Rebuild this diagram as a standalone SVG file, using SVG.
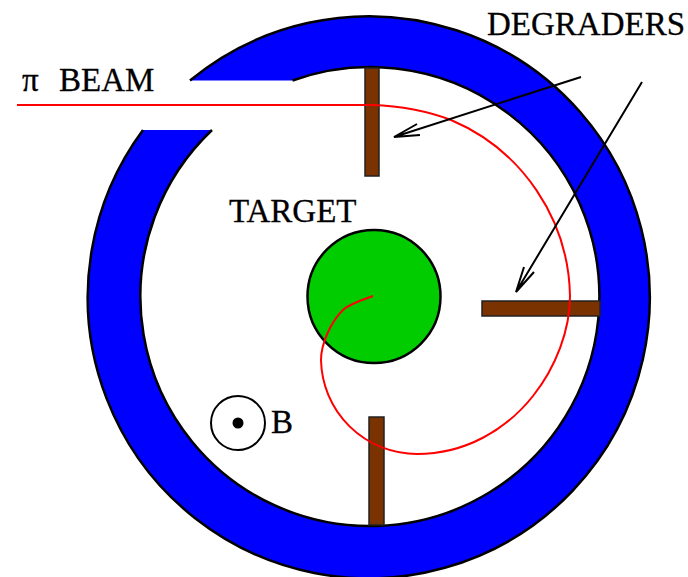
<svg xmlns="http://www.w3.org/2000/svg" width="688" height="577" viewBox="0 0 688 577">
<defs>
<style>
.t{font-family:"Liberation Serif","Times New Roman",serif;font-size:33px;fill:#000;stroke:#000;stroke-width:.3}
.o{fill:none;stroke:#000;stroke-width:2.500}
.d{fill:#7a3300;stroke:#222;stroke-width:1.500}
.a{fill:none;stroke:#000;stroke-width:2}
</style>
</defs>
<rect width="688" height="577" fill="#fff"/>
<g id="magnet">
<path fill="#0000ff" d="M190 80.500A281 281 0 1 1 143 130H212A229.500 229.500 0 1 0 292.500 80.500Z"/>
<path class="o" d="M190 80.500A281 281 0 1 1 143 130M212 130A229.500 229.500 0 1 0 292.500 80.500"/>
</g>
<g id="degrader-top"><rect class="d" x="365" y="68" width="14" height="108"/></g>
<g id="degrader-right"><rect class="d" x="482" y="301" width="118" height="15"/></g>
<g id="degrader-bottom"><rect class="d" x="369" y="417" width="15" height="108"/></g>
<g id="target"><circle cx="374" cy="296.500" r="66.500" fill="#00cc00" stroke="#000" stroke-width="2.500"/></g>
<g id="field"><circle cx="238" cy="423" r="27" fill="#fff" stroke="#000" stroke-width="2"/><circle cx="238" cy="423" r="5.500" fill="#000"/></g>
<g id="connectors">
<path fill="none" stroke="#ff0000" stroke-width="2" d="M17 105H372C400 106 430 112 451 120A195 195 0 0 1 570 296C570 330 556 367 533 396C506 430 465 454 417 454A96 96 0 0 1 321 360C321 345 330 322 344 309C352 303 362 300 373 296"/>
<path class="a" d="M581 77L394 137M417 124L394 137L420 135"/>
<path class="a" d="M642 82L516 292M524 267L516 292L534 272"/>
</g>
<g id="labels">
<text class="t" x="22" y="91">π</text>
<text class="t" x="59" y="91">BEAM</text>
<text class="t" x="487" y="35">DEGRADERS</text>
<text class="t" x="229" y="222">TARGET</text>
<text class="t" x="271" y="433">B</text>
</g>
</svg>
